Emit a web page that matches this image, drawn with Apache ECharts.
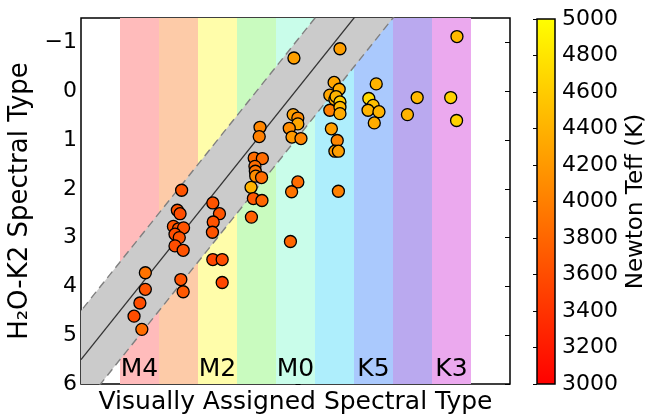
<!DOCTYPE html>
<html>
<head>
<meta charset="utf-8">
<script src="https://cdn.jsdelivr.net/npm/echarts@6/dist/echarts.min.js"></script>
<style>
  html, body { margin: 0; padding: 0; background: #fff; }
  #chart { width: 649px; height: 418px; }
</style>
</head>
<body>
<div id="chart"></div>
<script>
// visually assigned type (M4 = 4 ... M0 = 0, K7 = -1, K5 = -2, K4 = -3, K3 = -4)
const visType = [
  3.85, 3.85, 3.99, 4.14, 3.94,
  2.92, 3.03, 2.96, 3.13, 3.00, 2.87, 3.09, 2.98, 3.09, 2.88, 2.94, 2.88,
  2.12, 1.95, 2.11, 2.13, 2.12, 1.88, 1.88,
  0.91, 0.93, 1.06, 0.85, 1.04, 1.03, 1.02, 0.87, 1.14, 1.08, 0.86, 1.13,
  0.04, 0.06, -0.06, -0.06, 0.16, 0.09, -0.14, -0.06, 0.10, 0.13,
  -1.14, -0.99, -1.12, -0.88, -1.01, -1.04, -1.14, -0.88, -1.14, -1.14, -0.92, -1.07, -1.01, -1.10, -1.10,
  -2.07, -1.88, -1.99, -1.86, -2.14, -2.02,
  -3.12, -2.87,
  -4.14, -3.98, -4.13
];
// H2O-K2 spectral type
const h2oType = [
  3.72, 4.06, 4.34, 4.61, 4.88,
  2.03, 2.44, 2.51, 2.77, 2.82, 2.80, 2.93, 3.00, 3.17, 3.26, 3.86, 4.11,
  2.29, 2.51, 2.68, 2.89, 3.45, 3.45, 3.92,
  0.74, 0.93, 1.37, 1.38, 1.54, 1.64, 1.74, 1.77, 1.97, 2.20, 2.24, 2.58,
  -0.68, 0.48, 0.55, 0.67, 0.76, 0.94, 0.97, 1.86, 2.06, 3.08,
  -0.87, -0.18, -0.04, 0.08, 0.17, 0.11, 0.22, 0.39, 0.33, 0.46, 0.77, 1.01, 1.23, 1.23, 2.05,
  -0.15, 0.15, 0.29, 0.39, 0.42, 0.65,
  0.13, 0.48,
  -1.12, 0.13, 0.60
];
// Newton Teff (K)
const teffK = [
  3900, 3650, 3600, 3600, 3850,
  3650, 3650, 3600, 3650, 3650, 3650, 3600, 3650, 3600, 3650, 3650, 3700,
  3650, 3650, 3650, 3650, 3550, 3600, 3550,
  4050, 4000, 3850, 3850, 3850, 3900, 4100, 3850, 4400, 3700, 3800, 3750,
  4250, 4250, 4100, 4300, 4100, 4200, 4050, 3850, 3900, 3800,
  4250, 4300, 4350, 4300, 4350, 4400, 4600, 4000, 4450, 4350, 4250, 4050, 4200, 4250, 4000,
  4400, 4700, 4500, 4400, 4400, 4350,
  4450, 4400,
  4450, 4650, 4650
];

const bandCentre = [4, 3, 2, 1, 0, -1, -2, -3, -4];
const bandLabel = ['M4', '', 'M2', '', 'M0', '', 'K5', '', 'K3'];
const bandColor = ['#ffbbbb', '#fdcba8', '#fffdaa', '#c9fbbf', '#c9fdea',
                   '#aeeefc', '#aac9fd', '#baa9ef', '#eba9ee'];
const yTicks = [-1, 0, 1, 2, 3, 4, 5, 6];
const oneToOne = [[-5.5, -5.5], [5.5, 5.5]];
const bandHalf = 1;

const font = 'DejaVu Sans';
const points = visType.map((v, i) => [v, h2oType[i], teffK[i]]);

const chart = echarts.init(document.getElementById('chart'));

const option = {
  animation: false,
  grid: [
    { left: 81, right: 139, top: 18, bottom: 34, show: true, outerBoundsMode: 'none',
      borderColor: '#000', borderWidth: 1.5, backgroundColor: '#fff' },
    { left: 537, width: 18, top: 19, bottom: 34, show: true, outerBoundsMode: 'none',
      borderColor: '#000', borderWidth: 1.5,
      backgroundColor: new echarts.graphic.LinearGradient(0, 0, 0, 1, [
        { offset: 0, color: '#ffff00' }, { offset: 1, color: '#ff0000' }]) }
  ],
  xAxis: [
    { type: 'value', gridIndex: 0, min: -5.5, max: 5.5, inverse: true,
      axisLine: { show: false }, axisTick: { show: false },
      axisLabel: { show: false }, splitLine: { show: false },
      name: 'Visually Assigned Spectral Type', nameLocation: 'middle', nameGap: 6,
      nameTextStyle: { fontFamily: font, fontSize: 25, color: '#000', verticalAlign: 'top' } },
    { type: 'value', gridIndex: 1, min: 0, max: 1, show: false }
  ],
  yAxis: [
    { type: 'value', gridIndex: 0, min: -1.5, max: 6, inverse: true,
      axisLine: { show: false }, splitLine: { show: false },
      axisTick: { show: true, inside: true, length: 5, customValues: yTicks,
                  lineStyle: { color: '#000', width: 1 } },
      axisLabel: { customValues: yTicks, margin: 4, fontFamily: font, fontSize: 22, color: '#000',
                   formatter: v => (v < 0 ? '\u2212' + Math.abs(v) : String(v)) },
      name: 'H\u2082O-K2 Spectral Type', nameLocation: 'middle', nameGap: 46, nameRotate: 90,
      nameTextStyle: { fontFamily: font, fontSize: 26, color: '#000' } },
    { type: 'value', gridIndex: 0, position: 'right', min: -1.5, max: 6, inverse: true,
      axisLine: { show: false }, splitLine: { show: false },
      axisTick: { show: true, inside: true, length: 5, customValues: yTicks,
                  lineStyle: { color: '#000', width: 1 } },
      axisLabel: { show: false } },
    { type: 'value', gridIndex: 1, position: 'right', min: 3000, max: 5000, interval: 200,
      axisLine: { show: false }, splitLine: { show: false },
      axisTick: { show: true, inside: true, length: 4, lineStyle: { color: '#000', width: 1 } },
      axisLabel: { margin: 7, fontFamily: font, fontSize: 22, color: '#000',
                   formatter: v => String(v) },
      name: 'Newton Teff (K)', nameLocation: 'middle', nameGap: 70, nameRotate: 90,
      nameTextStyle: { fontFamily: font, fontSize: 23, color: '#000' } }
  ],
  visualMap: {
    show: false, type: 'continuous', min: 3000, max: 5000, dimension: 2, seriesIndex: 3,
    inRange: { color: ['#ff0000', '#ffff00'] }
  },
  series: [
    { // spectral type bands
      type: 'line', xAxisIndex: 0, yAxisIndex: 0, data: [], z: 1, silent: true,
      markArea: {
        silent: true,
        data: bandCentre.map((c, i) => [
          { xAxis: c + 0.5, name: bandLabel[i],
            itemStyle: { color: bandColor[i], opacity: 1 },
            label: { show: bandLabel[i] !== '', position: 'insideBottom', distance: 2,
                     fontFamily: font, fontSize: 25, color: '#000' } },
          { xAxis: c - 0.5 }
        ])
      }
    },
    { // grey one-to-one band
      type: 'custom', xAxisIndex: 0, yAxisIndex: 0, z: 2, clip: true, silent: true,
      data: [0],
      renderItem: (params, api) => {
        const a = oneToOne[0], b = oneToOne[1];
        const pts = [
          api.coord([a[0], a[1] - bandHalf]), api.coord([b[0], b[1] - bandHalf]),
          api.coord([b[0], b[1] + bandHalf]), api.coord([a[0], a[1] + bandHalf])
        ];
        return { type: 'polygon', shape: { points: pts }, style: { fill: '#cbcbcb' } };
      }
    },
    { // one-to-one line
      type: 'line', xAxisIndex: 0, yAxisIndex: 0, z: 3, symbol: 'none', silent: true,
      data: oneToOne, lineStyle: { color: '#333', width: 1.3 }
    },
    { // stars
      type: 'scatter', xAxisIndex: 0, yAxisIndex: 0, z: 5, symbolSize: 12,
      data: points,
      itemStyle: { borderColor: '#000', borderWidth: 1.3, opacity: 1 }
    },
    {
      type: 'line', xAxisIndex: 0, yAxisIndex: 0, z: 3, symbol: 'none', silent: true,
      data: oneToOne.map(p => [p[0], p[1] - bandHalf]),
      lineStyle: { color: '#808080', width: 1.4, type: [8, 5] }
    },
    {
      type: 'line', xAxisIndex: 0, yAxisIndex: 0, z: 3, symbol: 'none', silent: true,
      data: oneToOne.map(p => [p[0], p[1] + bandHalf]),
      lineStyle: { color: '#808080', width: 1.4, type: [8, 5] }
    }
  ]
};

chart.setOption(option);
</script>
</body>
</html>
